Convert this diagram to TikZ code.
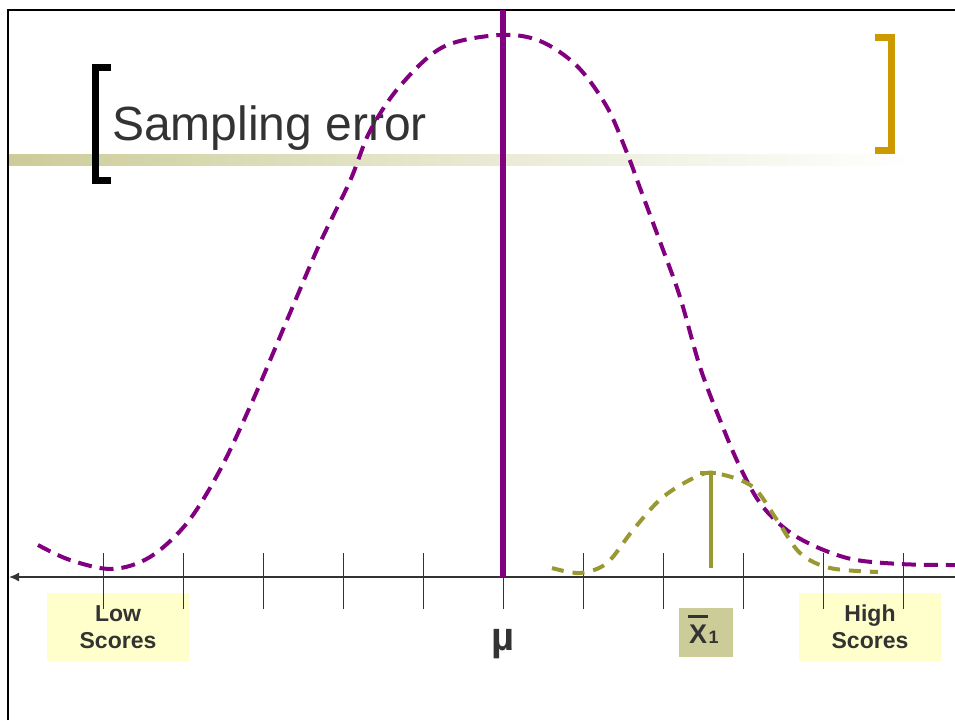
\documentclass[tikz,border=0pt]{standalone}
\usepackage{fontspec}
\setmainfont{Liberation Sans}
\usetikzlibrary{arrows.meta}
\definecolor{curvepurple}{HTML}{800080}
\definecolor{curveolive}{HTML}{999933}
\definecolor{barbeige}{HTML}{CCCC99}
\definecolor{goldbr}{HTML}{CC9900}
\definecolor{lowfill}{HTML}{FFFFCC}
\definecolor{txtgray}{HTML}{333333}
\tikzset{
  bigcurve/.style={draw=curvepurple, line width=4pt, dash pattern=on 14pt off 8pt},
  smallcurve/.style={draw=curveolive, line width=4pt, dash pattern=on 12pt off 9pt},
  tickline/.style={draw=txtgray, line width=1pt},
  scorebox/.style={fill=lowfill, text=txtgray, inner sep=0pt, minimum width=142pt, minimum height=68pt,
    align=center, font=\fontsize{23}{27}\selectfont\bfseries},
}
\begin{document}
\begin{tikzpicture}[x=1pt,y=-1pt]
\useasboundingbox (0,0) rectangle (955,720);
% gradient bar
\shade[left color=barbeige, right color=white, middle color=barbeige!45] (8,154) rectangle (915,165);
% frame
\draw[line width=2.5pt, black] (8,720) -- (8,10) -- (955,10);
% title
\node[anchor=base west, inner sep=0pt, text=txtgray, font=\fontsize{48}{50}\selectfont] (title) at (112,140) {Sampling error};
% brackets
\draw[line width=7pt, black, line cap=butt] (111,67.5) -- (95.5,67.5) -- (95.5,180.5) -- (111,180.5);
\draw[line width=7pt, goldbr, line cap=butt] (875,37.5) -- (891.5,37.5) -- (891.5,150.5) -- (875,150.5);
% boxes
\node[scorebox] (low) at (118,627) {Low\\Scores};
\node[scorebox] (high) at (870,627) {High\\Scores};
\node[fill=barbeige, minimum width=54pt, minimum height=49pt, inner sep=0pt] (xbox) at (706,632.5) {};
\node[anchor=base, inner sep=0pt, text=txtgray, font=\fontsize{27}{27}\selectfont\bfseries] (xbar) at (698,643.5) {X};
\draw[txtgray, line width=2.5pt] (688,616.5) -- (708,616.5);
\node[anchor=base west, inner sep=0pt, text=txtgray, font=\fontsize{18}{18}\selectfont\bfseries] (xsub) at (708.5,643.5) {1};
\node[anchor=base, inner sep=0pt, text=txtgray, font=\fontsize{40}{40}\selectfont\bfseries] (mu) at (503,650) {µ};
% axis
\coordinate (axl) at (9,577);
\coordinate (axr) at (955,577);
\draw[txtgray, line width=1.5pt, -{Latex[length=10pt,width=9pt]}] (axr) -- (axl);
\foreach \k in {0,...,10} {
  \draw[tickline] ({103+80*\k},553) -- ({103+80*\k},609);
}
% big curve
\draw[bigcurve] plot[smooth, tension=0.55] coordinates {
 (38,545) (70,560) (112,569) (150,557) (187,523) (220,470) (253,400) (290,313)
 (320,243) (350,181) (370,131) (400,86) (443,47) (500,35) (540,41) (577,66)
 (607,107) (627,153) (640,188) (662,247) (680,297) (700,367) (720,420)
 (740,467) (763,507) (797,537) (847,558) (900,564) (955,565)};
% small curve
\draw[smallcurve] plot[smooth, tension=0.55] coordinates {
 (552,568) (580,573) (607,563) (633,530) (663,497) (700,475) (720,474)
 (753,487) (777,520) (800,553) (830,568) (878,572)};
\draw[curveolive, line width=3.5pt] (711,473) -- (711,568);
\draw[curveolive, line width=3.5pt] (700,473) -- (716,473);
% mean line
\draw[curvepurple, line width=5.5pt] (503,10) -- (503,577);
\end{tikzpicture}
\end{document}
